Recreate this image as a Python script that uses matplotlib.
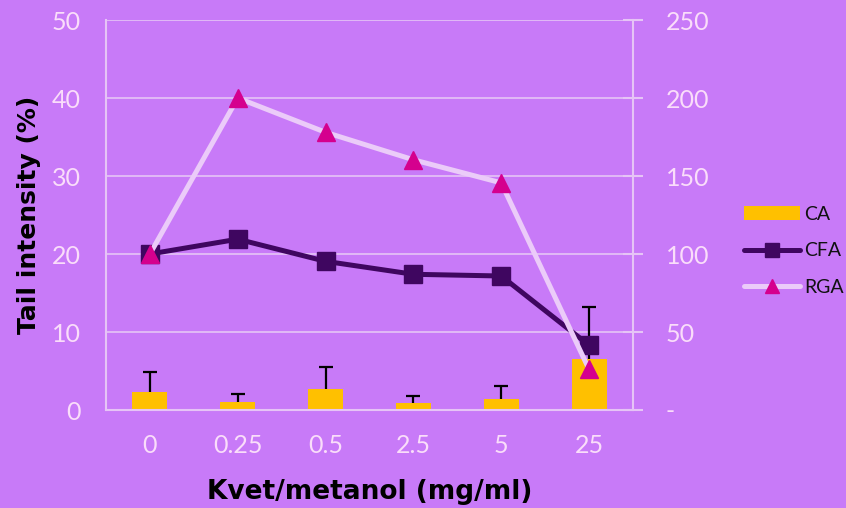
import matplotlib
matplotlib.use("Agg")
import matplotlib.pyplot as plt
from matplotlib.patches import Patch
from matplotlib.lines import Line2D
from matplotlib.ticker import FixedLocator, FixedFormatter

# Data
concentrations = ["0", "0.25", "0.5", "2.5", "5", "25"]
ca_values = [2.35, 0.98, 2.65, 0.85, 1.45, 6.54]
ca_errors = [2.55, 1.12, 2.82, 0.98, 1.63, 6.7]
cfa_values = [20.0, 21.9, 19.06, 17.4, 17.18, 8.3]
rga_values = [100.0, 200.0, 178.0, 160.4, 145.6, 26.0]
left_ticks = [0, 10, 20, 30, 40, 50]
right_ticks = [0, 50, 100, 150, 200, 250]
right_tick_labels = ["-", "50", "100", "150", "200", "250"]

BG = "#C87AF8"
PALE = "#FADDFA"
GRID = "#E6C4F6"
CA_COLOR = "#FFC000"
CFA_COLOR = "#3F0660"
RGA_LINE = "#EBCBF9"
RGA_MARK = "#D5008E"

plt.rcParams["font.family"] = ["Lato", "DejaVu Sans"]

fig = plt.figure(figsize=(8.46, 5.08), dpi=100, facecolor=BG)
ax = fig.add_axes([106 / 846, 1 - 410 / 508, (633 - 106) / 846, 390 / 508])
ax.set_facecolor(BG)
x = list(range(len(concentrations)))

# Bars with upward-only error bars
ax.bar(x, ca_values, width=0.4, color=CA_COLOR, zorder=2)
eb = ax.errorbar(x, ca_values, yerr=[[0] * len(x), ca_errors], fmt="none",
                 ecolor="black", elinewidth=1.6, capsize=5, capthick=1.6,
                 zorder=3)
eb[1][0].remove()  # drop the cap sitting on the bar top

# CFA line
ax.plot(x, cfa_values, color=CFA_COLOR, lw=3.6, marker="s", ms=13,
        zorder=4, solid_capstyle="round")

ax.set_xlim(-0.5, 5.5)
ax.set_ylim(0, 50)
ax.yaxis.set_major_locator(FixedLocator(left_ticks))
ax.set_xticks(x)
ax.set_xticklabels(concentrations)
ax.grid(axis="y", color=GRID, lw=1.2, zorder=0)
ax.set_axisbelow(True)
for s in ["top", "right"]:
    ax.spines[s].set_visible(False)
for s in ["left", "bottom"]:
    ax.spines[s].set_color(GRID)
    ax.spines[s].set_linewidth(1.5)
ax.tick_params(axis="y", length=0, pad=18, labelsize=18, labelcolor=PALE)
ax.tick_params(axis="x", length=0, pad=17, labelsize=18, labelcolor=PALE)

ax.set_ylabel("Tail intensity (%)", fontsize=18, fontweight="bold",
              color="black", family="DejaVu Sans", labelpad=8)
ax.set_xlabel("Kvet/metanol (mg/ml)", fontsize=19, fontweight="bold",
              color="black", family="DejaVu Sans", labelpad=16)

# RGA on secondary axis
ax2 = ax.twinx()
ax2.patch.set_visible(False)
ax2.plot(x, rga_values, color=RGA_LINE, lw=3.6, zorder=5)
ax2.plot(x, rga_values, ls="none", marker="^", ms=13, color=RGA_MARK,
         zorder=6)
ax2.set_ylim(0, 250)
ax2.yaxis.set_major_locator(FixedLocator(right_ticks))
ax2.yaxis.set_major_formatter(FixedFormatter(right_tick_labels))
for s in ["top", "left", "bottom"]:
    ax2.spines[s].set_visible(False)
ax2.spines["right"].set_color(GRID)
ax2.spines["right"].set_linewidth(1.5)
ax2.tick_params(axis="y", direction="inout", length=15, width=1.5,
                color=GRID, pad=16, labelsize=18, labelcolor=PALE)

handles = [
    Patch(facecolor=CA_COLOR, edgecolor="none"),
    Line2D([], [], color=CFA_COLOR, lw=3.6, marker="s", ms=10,
           solid_capstyle="round"),
    Line2D([], [], color=RGA_LINE, lw=3.6, marker="^", ms=10,
           markerfacecolor=RGA_MARK, markeredgecolor=RGA_MARK,
           solid_capstyle="round"),
]
leg = fig.legend(handles, ["CA", "CFA", "RGA"], loc="center left",
                 bbox_to_anchor=(744 / 846, 1 - 251 / 508), frameon=False,
                 fontsize=14, handlelength=2.9, handletextpad=0.2,
                 labelspacing=1.0, borderpad=0, borderaxespad=0)
for t in leg.get_texts():
    t.set_color("#111111")

fig.savefig("out.png", dpi=100, facecolor=BG)
